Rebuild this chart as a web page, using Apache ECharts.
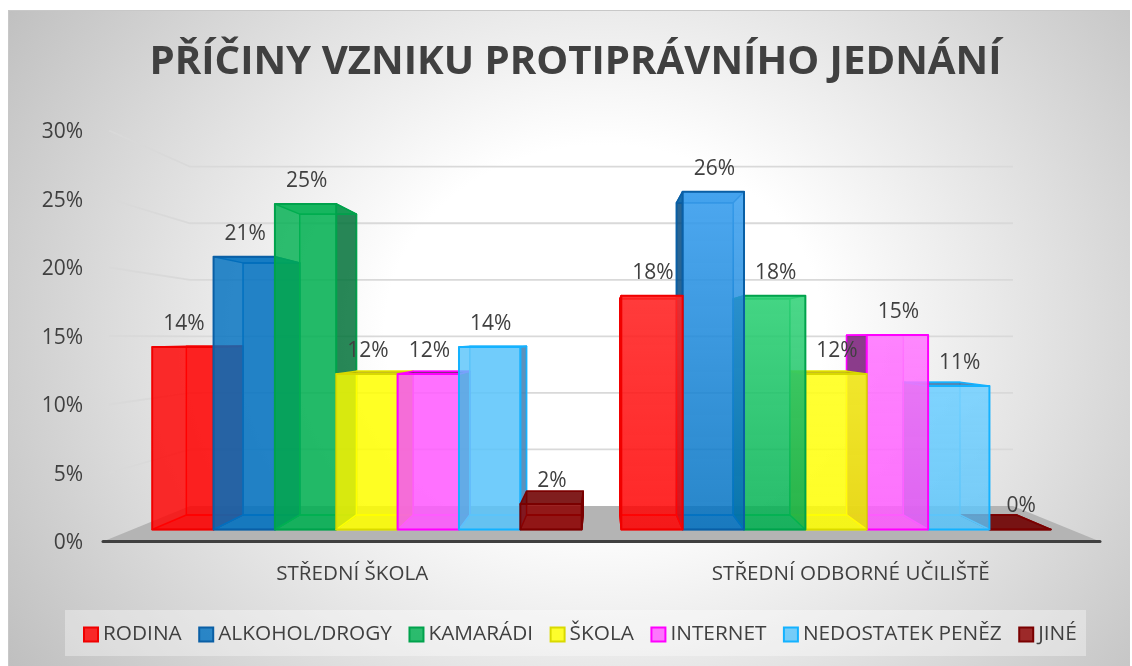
<!DOCTYPE html>
<html>
<head>
<meta charset="utf-8">
<style>
html,body{margin:0;padding:0;background:#fff;width:1132px;height:666px;overflow:hidden}
#bg{position:absolute;left:8px;top:10px;width:1122px;height:656px;box-sizing:border-box;border-top:1px solid #c8c8c8;border-left:1px solid #c8c8c8;
background:radial-gradient(ellipse 730px 620px at 595px 320px,#ffffff 0%,#ffffff 30%,#bdbdbd 100%)}
#main{position:absolute;left:0;top:0;width:1132px;height:666px}
</style>
<script src="https://cdn.jsdelivr.net/npm/echarts@6/dist/echarts.min.js"></script>
</head>
<body>
<div id="bg"></div>
<div id="main"></div>
<script>
var titleText = 'PŘÍČINY VZNIKU PROTIPRÁVNÍHO JEDNÁNÍ';
var categories = ['STŘEDNÍ ŠKOLA', 'STŘEDNÍ ODBORNÉ UČILIŠTĚ'];
var seriesNames = ['RODINA', 'ALKOHOL/DROGY', 'KAMARÁDI', 'ŠKOLA', 'INTERNET', 'NEDOSTATEK PENĚZ', 'JINÉ'];
var rodina = [14.16, 18.14];
var alkohol = [21.16, 26.2];
var kamaradi = [25.25, 18.14];
var skola = [12.06, 12.06];
var internet = [12.06, 15.09];
var nedostatek = [14.16, 11.13];
var jine = [1.98, 0];
var seriesValues = [rodina, alkohol, kamaradi, skola, internet, nedostatek, jine];
var gridTicks = [5, 10, 15, 20, 25, 30];

// face colours per series
var frontCol = ['255,0,0', '0,112,192', '0,176,80', '255,255,0', '255,90,255', '90,196,250', '140,0,0'];
var frontTop = ['255,40,40', '60,160,240', '50,210,120', '255,255,30', '255,120,255', '115,208,255', '140,0,0'];
var lineCol = ['#f00000', '#0a5fa5', '#00a24c', '#d9d900', '#ff00ff', '#14b2ff', '#7a0000'];
var sideCol = ['200,0,0', '0,70,125', '0,110,55', '190,180,0', '110,20,110', '60,120,170', '110,0,0'];

// perspective: vanishing point and depth scales of the bars
var VX = 601.5, VY = 338, S_FLOORBACK = 0.8255, S0 = 0.941, S1 = 0.8695;
var BAR_FRAC = 0.1308;
function proj(p, s) { return [VX + (p[0] - VX) * s, VY + (p[1] - VY) * s]; }

function poly(pts, fill, stroke, z2, lw) {
  return { type: 'polygon', z2: z2, silent: true, shape: { points: pts },
    style: { fill: fill, stroke: stroke || null, lineWidth: lw || 1.5, lineJoin: 'round' } };
}

function renderBar(si) {
  return function (params, api) {
    var cat = api.value(0), val = api.value(1);
    var center = api.coord([cat, 0])[0];
    var bw = api.size([1, 0])[0] * BAR_FRAC;
    var x0 = center + (si - 3.5) * bw, x1 = x0 + bw;
    var yb = api.coord([cat, 0])[1], yt = api.coord([cat, val])[1];
    var order = cat === 0 ? si : 7 + (6 - si);
    var z = 10 + order * 10;
    function P(x, y, s) { return proj([x, y], s); }
    var fbl = P(x0, yb, S0), fbr = P(x1, yb, S0), ftl = P(x0, yt, S0), ftr = P(x1, yt, S0);
    var bbl = P(x0, yb, S1), bbr = P(x1, yb, S1), btl = P(x0, yt, S1), btr = P(x1, yt, S1);
    var rgb = frontCol[si], ln = lineCol[si], sd = sideCol[si];
    var children = [];
    var thinLn = 'rgba(' + rgb + ',1)';
    // back and bottom
    children.push(poly([bbl, bbr, btr, btl], 'rgba(' + rgb + ',0.22)', thinLn, z, 1.5));
    children.push(poly([fbl, fbr, bbr, bbl], 'rgba(' + rgb + ',0.30)', thinLn, z + 1, 1.5));
    // side that faces the viewer
    var showRight = fbr[0] < VX;
    var side = showRight ? [fbr, bbr, btr, ftr] : [fbl, bbl, btl, ftl];
    children.push(poly(side, 'rgba(' + sd + ',0.80)', ln, z + 2, 1.5));
    // top
    var topAbove = ftl[1] > btl[1];
    children.push(poly([ftl, ftr, btr, btl], topAbove ? 'rgba(' + sd + ',0.85)' : 'rgba(' + rgb + ',0.50)', ln, z + 3, 1.5));
    // front
    var fill = cat === 0 ? 'rgba(' + rgb + ',0.82)' : {
      type: 'linear', x: 0, y: 0, x2: 0, y2: 1,
      colorStops: [
        { offset: 0, color: 'rgba(' + frontTop[si] + ',0.88)' },
        { offset: 1, color: 'rgba(' + rgb + ',0.80)' }
      ]
    };
    children.push(poly([fbl, fbr, ftr, ftl], fill, ln, z + 4, 2));
    // value label
    children.push({ type: 'text', z2: 500, silent: true,
      style: { text: Math.round(val) + '%', x: (ftl[0] + ftr[0]) / 2 + 1, y: ftl[1] - 23,
        align: 'center', verticalAlign: 'middle', textAlign: 'center', textVerticalAlign: 'middle',
        fill: '#404040', font: '21px "Open Sans"' } });
    return { type: 'group', children: children };
  };
}

function renderWalls(params, api) {
  var children = [];
  var band = api.size([1, 0])[0];
  var base = api.coord([0, 0]);
  var left = base[0] - band / 2, right = api.coord([1, 0])[0] + band / 2;
  // floor
  var fl = [left, base[1]], fr = [right, base[1]];
  children.push(poly([fl, fr, proj(fr, S_FLOORBACK), proj(fl, S_FLOORBACK)], '#b4b4b4', null, 1));
  gridTicks.forEach(function (v) {
    var y = api.coord([0, v])[1];
    var a = [left + 6, y], b = proj([left, y], S_FLOORBACK), c = proj([right, y], S_FLOORBACK);
    children.push({ type: 'polyline', z2: 2, silent: true, shape: { points: [a, b, c] },
      style: { stroke: '#d9d9d9', lineWidth: 1.8, fill: null } });
  });
  return { type: 'group', children: children };
}

var series = [{
  type: 'custom', name: 'walls', silent: true, renderItem: renderWalls,
  coordinateSystem: 'cartesian2d', data: [[0, 0]], encode: { x: 0, y: 1 }, clip: false
}];
seriesNames.forEach(function (nm, si) {
  series.push({
    type: 'custom', name: nm, silent: true,
    coordinateSystem: 'cartesian2d', renderItem: renderBar(si), clip: false,
    itemStyle: { color: 'rgba(' + frontCol[si] + ',0.82)', borderColor: lineCol[si], borderWidth: 1.5 },
    data: seriesValues[si].map(function (v, i) { return [i, v]; }),
    encode: { x: 0, y: 1 }
  });
});

var chart = echarts.init(document.getElementById('main'), null, { width: 1132, height: 666 });
chart.setOption({
  backgroundColor: 'transparent',
  animation: false,
  textStyle: { fontFamily: '"Open Sans"' },
  title: {
    text: titleText, left: 570.5, textAlign: 'center', top: 38,
    textStyle: { fontFamily: '"Open Sans"', fontWeight: 'bold', fontSize: 40.2, color: '#404040' }
  },
  graphic: [{ type: 'rect', left: 65, top: 610, z: -1, silent: true,
    shape: { width: 1021, height: 46 }, style: { fill: 'rgba(255,255,255,0.35)' } }],
  grid: { left: 103, right: 32, top: 130.5, height: 411, containLabel: false },
  xAxis: {
    type: 'category', data: categories, boundaryGap: true, z: 10,
    axisLine: { show: true, lineStyle: { color: '#404040', width: 3, cap: 'round' } },
    axisTick: { show: false },
    axisLabel: { color: '#404040', fontSize: 20.6, margin: 22, fontFamily: '"Open Sans"' }
  },
  yAxis: {
    type: 'value', min: 0, max: 30, interval: 5,
    axisLine: { show: false }, axisTick: { show: false }, splitLine: { show: false },
    axisLabel: { margin: 20, formatter: '{a|{value}%}',
      rich: { a: { color: '#404040', fontSize: 21, padding: [4, 0, 0, 0], fontFamily: '"Open Sans"' } } }
  },
  legend: {
    data: seriesNames, left: 83, top: 624, padding: 0, itemWidth: 14, itemHeight: 14, itemGap: 16.5,
    icon: 'rect', selectedMode: false,
    textStyle: { color: '#404040', fontSize: 20.8, padding: [0, 0, 0, 0], fontFamily: '"Open Sans"' }
  },
  series: series
});
</script>
</body>
</html>
